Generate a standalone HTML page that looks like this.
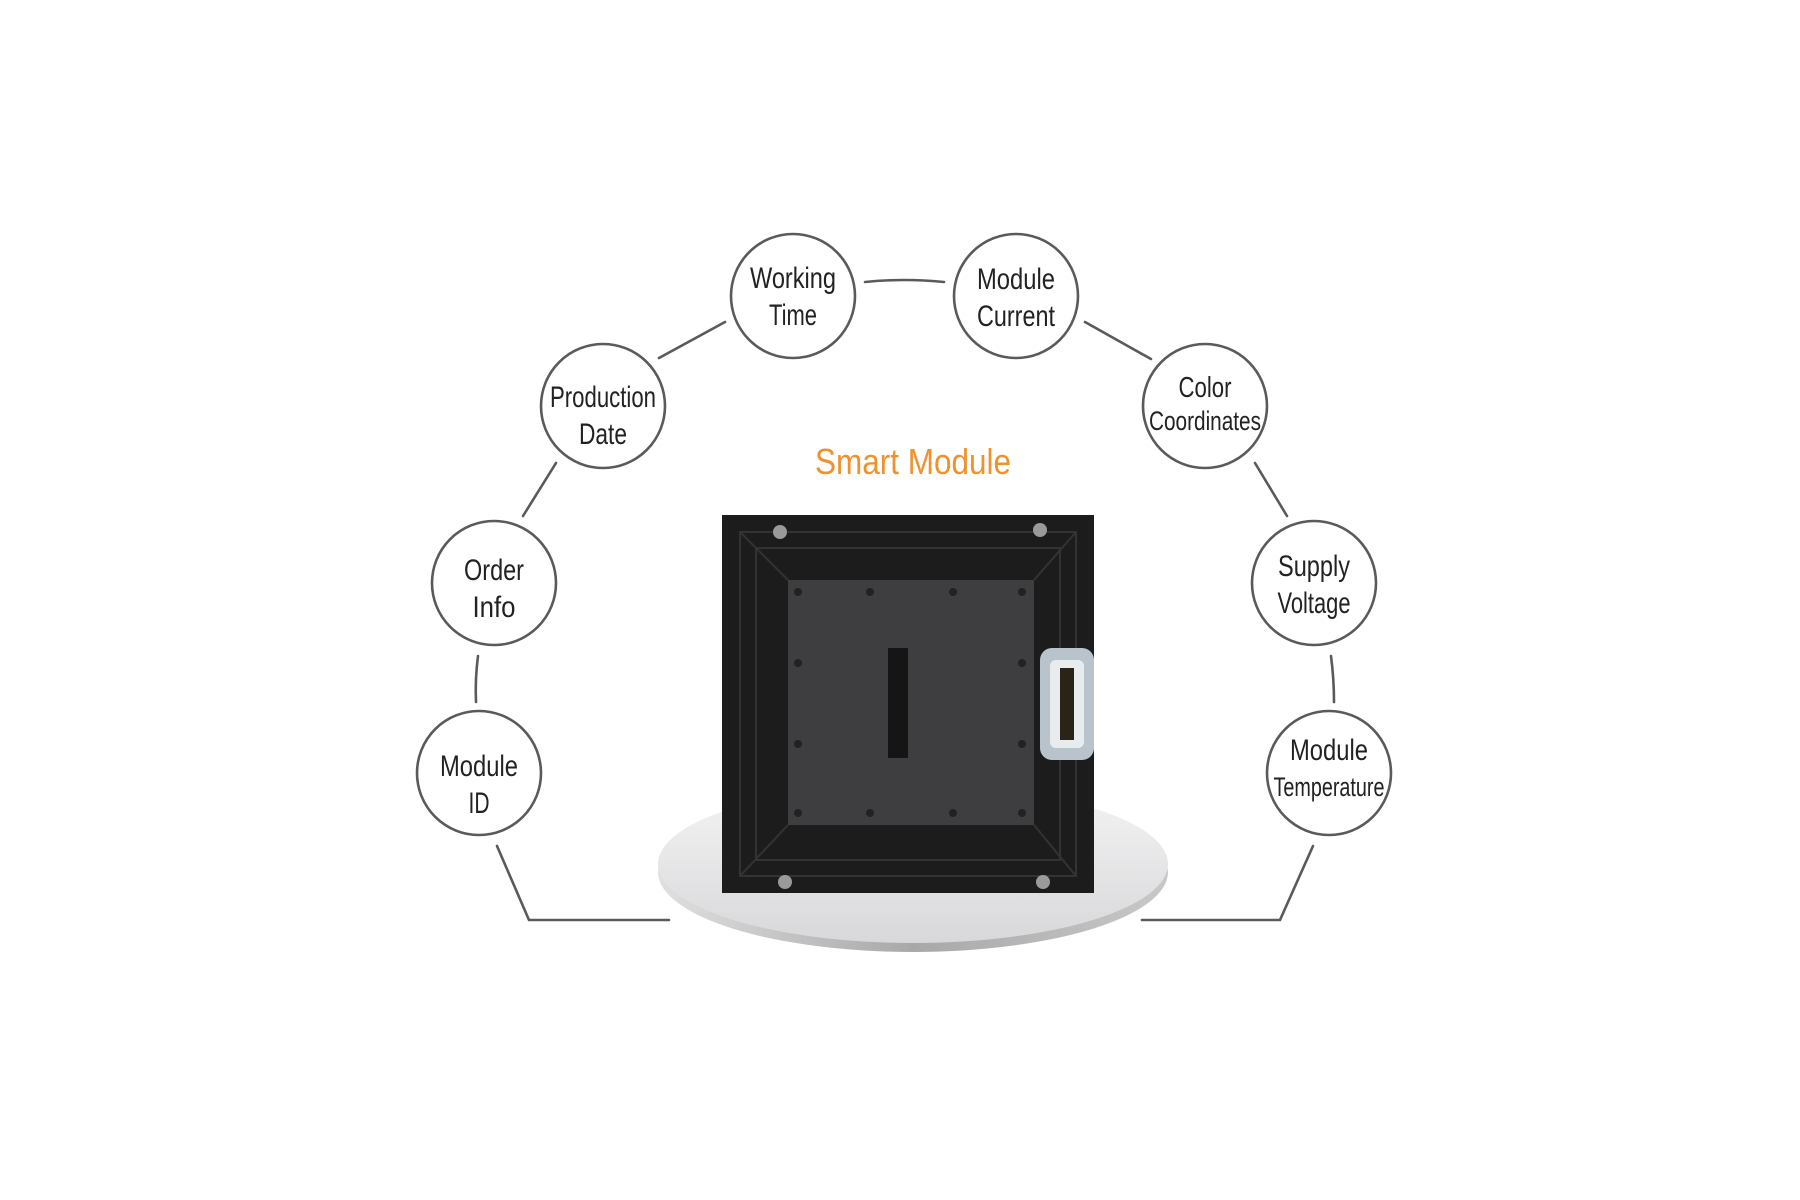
<!DOCTYPE html>
<html><head><meta charset="utf-8"><style>
html,body{margin:0;padding:0;background:#fff;width:1800px;height:1200px;overflow:hidden}
text{font-family:"Liberation Sans Narrow","Liberation Sans",sans-serif}
</style></head><body>
<svg width="1800" height="1200" viewBox="0 0 1800 1200" xmlns="http://www.w3.org/2000/svg">
<defs>
<linearGradient id="disc" x1="0" y1="0" x2="0" y2="1">
<stop offset="0" stop-color="#f4f4f5"/><stop offset="1" stop-color="#d8d8da"/></linearGradient>
<linearGradient id="rim" x1="0" y1="0" x2="1" y2="0">
<stop offset="0" stop-color="#e0e0e0"/><stop offset="0.5" stop-color="#a8a8a8"/><stop offset="1" stop-color="#c8c8c8"/></linearGradient>
</defs>
<g transform="translate(-4,-2)">
<g fill="none" stroke="#5a5a5a" stroke-width="2.6" stroke-linecap="round">
<path d="M869,284 Q908,280 948,284"/>
<line x1="663" y1="360" x2="729" y2="324"/>
<line x1="1089" y1="324" x2="1155" y2="361"/>
<line x1="560" y1="465" x2="527" y2="518"/>
<line x1="1259" y1="465" x2="1291" y2="518"/>
<path d="M482,658 Q479,681 480,704"/>
<path d="M1335,658 Q1338,681 1338,704"/>
<polyline points="501,848 533,922 673,922"/>
<polyline points="1317,848 1284,922 1146,922"/>
</g>
<g fill="#fff" stroke="#5a5a5a" stroke-width="2.6">
<circle cx="797" cy="298" r="62"/><circle cx="1020" cy="298" r="62"/>
<circle cx="607" cy="408" r="62"/><circle cx="1209" cy="408" r="62"/>
<circle cx="498" cy="585" r="62"/><circle cx="1318" cy="585" r="62"/>
<circle cx="483" cy="775" r="62"/><circle cx="1333" cy="775" r="62"/>
</g>
<g fill="#222" font-size="30" text-anchor="middle" lengthAdjust="spacingAndGlyphs">
<text x="797" y="290" textLength="86" lengthAdjust="spacingAndGlyphs">Working</text><text x="797" y="327" textLength="48" lengthAdjust="spacingAndGlyphs">Time</text>
<text x="1020" y="291" textLength="78" lengthAdjust="spacingAndGlyphs">Module</text><text x="1020" y="328" textLength="78" lengthAdjust="spacingAndGlyphs">Current</text>
<text x="607" y="409" textLength="106" lengthAdjust="spacingAndGlyphs">Production</text><text x="607" y="446" textLength="48" lengthAdjust="spacingAndGlyphs">Date</text>
<text x="1209" y="399" font-size="29" textLength="53" lengthAdjust="spacingAndGlyphs">Color</text><text x="1209" y="432" font-size="27" textLength="112" lengthAdjust="spacingAndGlyphs">Coordinates</text>
<text x="498" y="582" textLength="60" lengthAdjust="spacingAndGlyphs">Order</text><text x="498" y="619" textLength="43" lengthAdjust="spacingAndGlyphs">Info</text>
<text x="1318" y="578" textLength="72" lengthAdjust="spacingAndGlyphs">Supply</text><text x="1318" y="615" textLength="73" lengthAdjust="spacingAndGlyphs">Voltage</text>
<text x="483" y="778" textLength="78" lengthAdjust="spacingAndGlyphs">Module</text><text x="483" y="815" textLength="21" lengthAdjust="spacingAndGlyphs">ID</text>
<text x="1333" y="762" textLength="78" lengthAdjust="spacingAndGlyphs">Module</text><text x="1333" y="798" font-size="27" textLength="111" lengthAdjust="spacingAndGlyphs">Temperature</text>
</g>
<text x="917" y="476" font-size="36" fill="#f0912e" text-anchor="middle" textLength="196" lengthAdjust="spacingAndGlyphs">Smart Module</text>
</g>
<ellipse cx="913" cy="872" rx="255" ry="80" fill="url(#rim)"/>
<ellipse cx="913" cy="864" rx="255" ry="79" fill="url(#disc)"/>
<rect x="722" y="515" width="372" height="378" fill="#1c1c1d"/>
<g stroke="#333" stroke-width="2" fill="none">
<rect x="740" y="532" width="336" height="344"/>
<rect x="756" y="548" width="304" height="312"/>
<line x1="740" y1="532" x2="788" y2="580"/><line x1="1076" y1="532" x2="1034" y2="580"/>
<line x1="740" y1="876" x2="788" y2="825"/><line x1="1076" y1="876" x2="1034" y2="825"/>
</g>
<rect x="788" y="580" width="246" height="245" fill="#3e3e40"/>
<rect x="888" y="648" width="20" height="110" fill="#151515"/>
<rect x="1040" y="648" width="54" height="112" rx="12" fill="#b9c3cc"/>
<rect x="1050" y="660" width="34" height="88" rx="6" fill="#e8ecef"/>
<rect x="1060" y="668" width="14" height="72" fill="#2a2318"/>
<g fill="#222">
<circle cx="798" cy="592" r="4"/><circle cx="870" cy="592" r="4"/><circle cx="953" cy="592" r="4"/><circle cx="1022" cy="592" r="4"/>
<circle cx="798" cy="813" r="4"/><circle cx="870" cy="813" r="4"/><circle cx="953" cy="813" r="4"/><circle cx="1022" cy="813" r="4"/>
<circle cx="798" cy="663" r="4"/><circle cx="1022" cy="663" r="4"/><circle cx="798" cy="744" r="4"/><circle cx="1022" cy="744" r="4"/>
</g>
<g fill="#9a9a9a"><circle cx="780" cy="532" r="7"/><circle cx="1040" cy="530" r="7"/><circle cx="785" cy="882" r="7"/><circle cx="1043" cy="882" r="7"/></g>
</svg>
</body></html>
